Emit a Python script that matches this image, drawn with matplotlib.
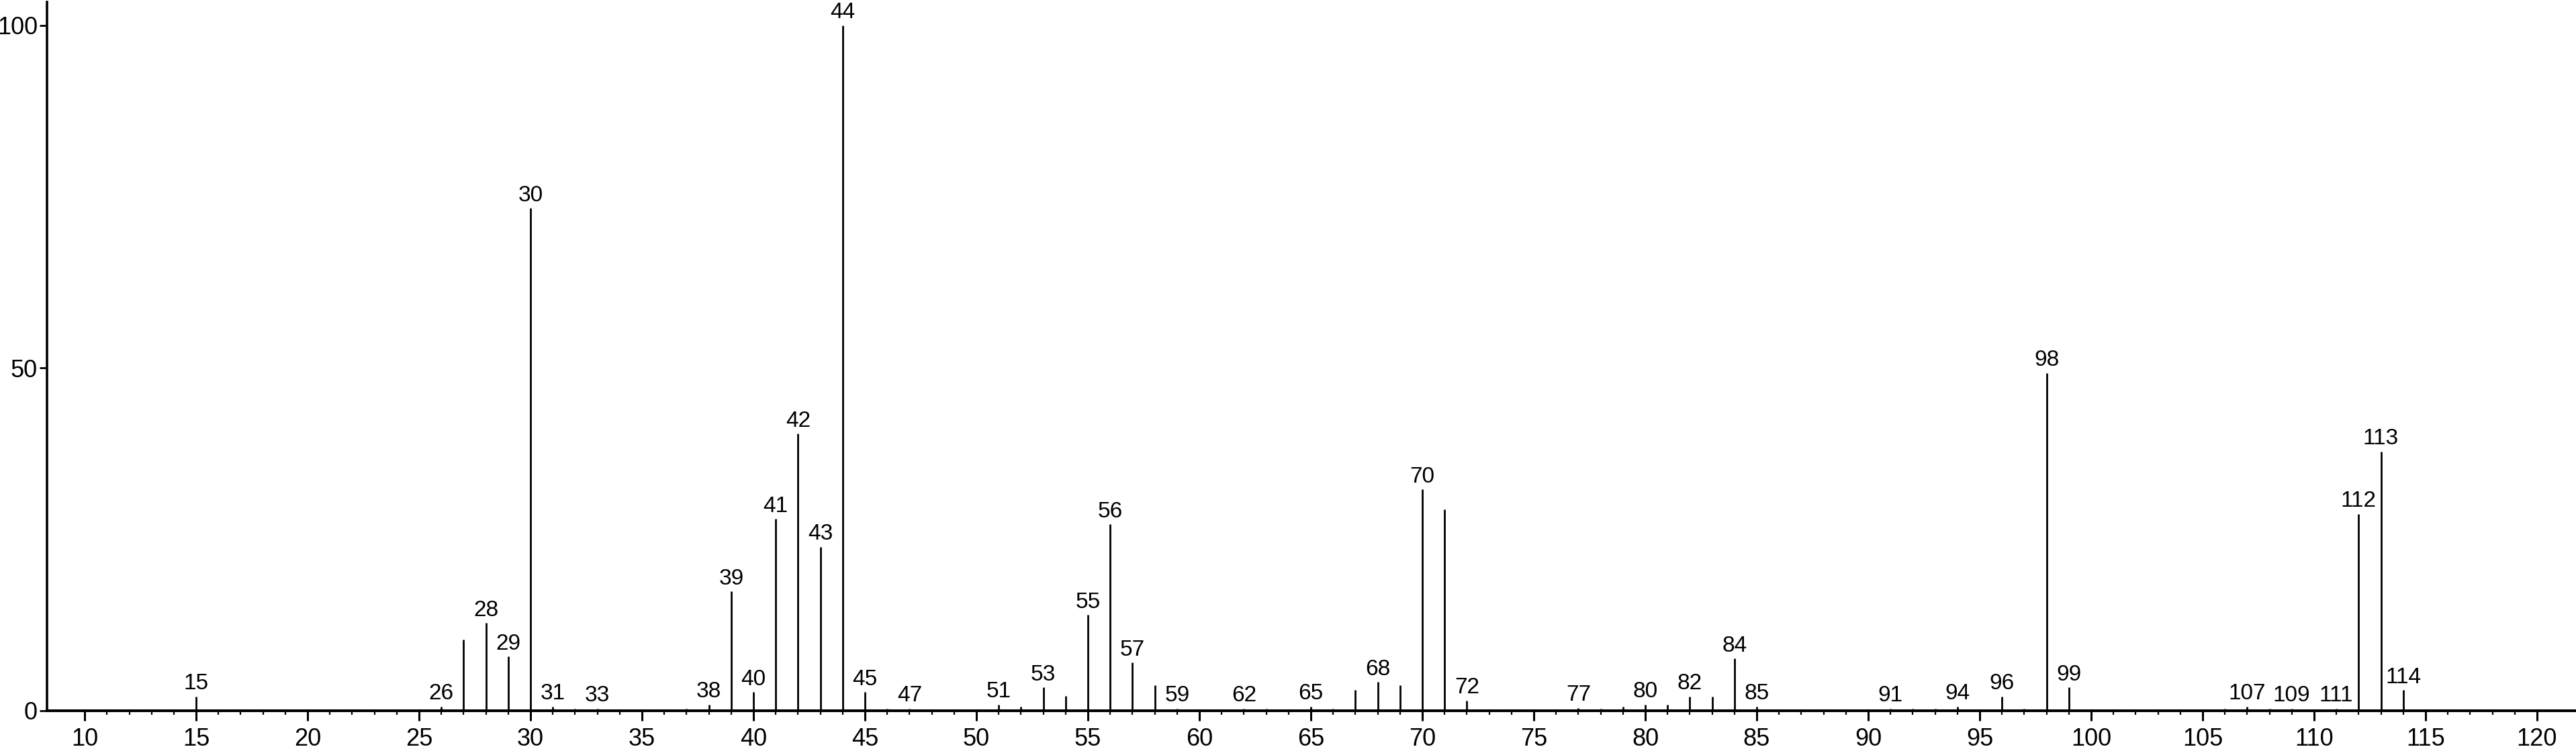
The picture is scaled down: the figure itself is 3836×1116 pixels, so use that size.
import numpy as np
import matplotlib.pyplot as plt
from matplotlib.ticker import FixedLocator

plt.rcParams['font.family'] = ['Liberation Sans', 'DejaVu Sans']

# m/z and relative intensity
mz = [15, 26, 27, 28, 29, 30, 31, 32, 33, 37, 38, 39, 40, 41, 42, 43, 44, 45,
      46, 47, 51, 52, 53, 54, 55, 56, 57, 58, 59, 62, 63, 65, 66, 67, 68, 69,
      70, 71, 72, 77, 78, 79, 80, 81, 82, 83, 84, 85, 91, 92, 93, 94, 96, 97,
      98, 99, 106, 107, 108, 109, 111, 112, 113, 114]
inten = [2.1, 0.6, 10.4, 12.8, 7.9, 73.3, 0.6, 0.3, 0.3, 0.3, 0.9, 17.4, 2.7,
         28.0, 40.4, 23.9, 100, 2.7, 0.3, 0.3, 0.9, 0.6, 3.4, 2.2, 14.0, 27.2,
         7.0, 3.7, 0.3, 0.3, 0.3, 0.6, 0.3, 3.0, 4.2, 3.7, 32.3, 29.4, 1.5,
         0.4, 0.3, 0.6, 0.9, 0.9, 2.1, 2.1, 7.6, 0.6, 0.3, 0.3, 0.3, 0.6, 2.1,
         0.3, 49.3, 3.4, 0.3, 0.6, 0.3, 0.3, 0.3, 28.7, 37.8, 3.0]

# peaks that carry a label
labeled = [15, 26, 28, 29, 30, 31, 33, 38, 39, 40, 41, 42, 43, 44, 45, 47, 51,
           53, 55, 56, 57, 59, 62, 65, 68, 70, 72, 77, 80, 82, 84, 85, 91, 94,
           96, 98, 99, 107, 109, 111, 112, 113, 114]

xticks = list(range(10, 121, 5))
yticks = [0, 50, 100]

fig = plt.figure(figsize=(38.36, 11.16), dpi=100)
ax = fig.add_axes([0.01825, 0.0511, 0.98175, 0.9462])

ax.vlines(mz, 0, inten, colors='black', linewidth=2.0)

for m, v in zip(mz, inten):
    if m in labeled:
        ax.annotate(str(m), (m, v), xytext=(0, 2.5), textcoords='offset points',
                    ha='center', va='bottom', fontsize=24)

ax.set_xlim(8.31, 121.75)
ax.set_ylim(0, 103.4)

ax.spines['top'].set_visible(False)
ax.spines['right'].set_visible(False)
ax.spines['left'].set_linewidth(2.6)
ax.spines['bottom'].set_linewidth(2.9)

ax.set_xticks(xticks)
ax.xaxis.set_minor_locator(FixedLocator(range(10, 121)))
ax.set_yticks(yticks)
ax.tick_params(axis='x', which='major', length=10.8, width=2.2, labelsize=26, pad=7)
ax.tick_params(axis='x', which='minor', length=4.3, width=1.6)
ax.tick_params(axis='y', which='major', length=8, width=2.0, labelsize=26, pad=2)

fig.savefig('out.png', dpi=100)
